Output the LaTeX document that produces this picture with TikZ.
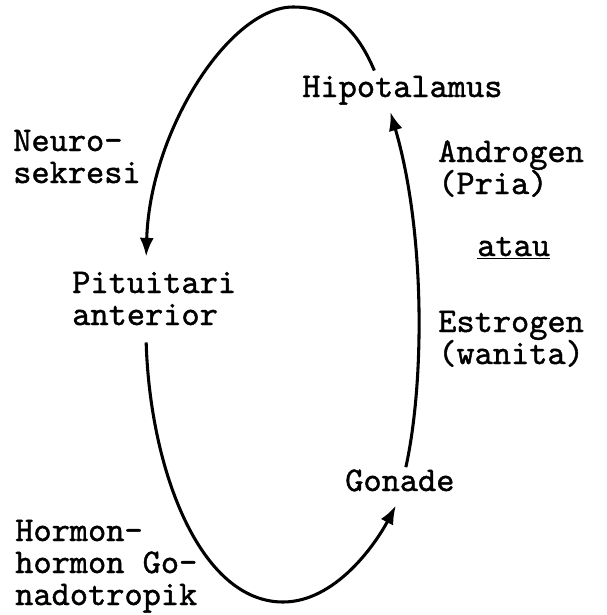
\documentclass[tikz,border=0pt]{standalone}
\usepackage{fontspec}
\newfontfamily\typer[FakeBold=1.2]{lmmono10-regular.otf}
\usetikzlibrary{arrows.meta}
\begin{document}
\begin{tikzpicture}[
        x=0.75pt, y=-0.75pt,
        every node/.style={font=\typer\fontsize{26}{24}\selectfont, inner sep=0pt, align=left, anchor=base west},
        arr/.style={line width=2.3pt, -{Latex[length=14pt,width=10.5pt]}}
    ]
    \useasboundingbox (0,0) rectangle (607,615);

    \node (hypo) at (302,97) {Hipotalamus};
    \node (neuro) at (13,183) {Neuro-\\sekresi};
    \node (pitu) at (72,325) {Pituitari\\anterior};
    \node (andro) at (438,194) {Androgen\\(Pria)};
    \node (atau) at (477,256) {\underline{atau}};
    \node (estro) at (438,364) {Estrogen\\(wanita)};
    \node (gonade) at (345,491) {Gonade};
    \node (hormon) at (15,605) {Hormon-\\hormon Go-\\nadotropik};

    \coordinate (apex) at (293,7);
    \coordinate (bottom) at (283,602);

    \draw[arr] ([shift={(-28,-5)}]hypo.north) .. controls (355,25) and (330,7) .. (apex)
        .. controls (230,7) and (150,130) .. ([shift={(-8,-15)}]pitu.north);
    \draw[arr] ([shift={(-8,17)}]pitu.south) .. controls (150,470) and (200,602) .. (bottom)
        .. controls (335,602) and (375,545) .. ([shift={(-4,14)}]gonade.south);
    \draw[arr] ([shift={(6,-2)}]gonade.north) .. controls (425,380) and (425,230) .. ([shift={(-12,7)}]hypo.south);

\end{tikzpicture}
\end{document}
